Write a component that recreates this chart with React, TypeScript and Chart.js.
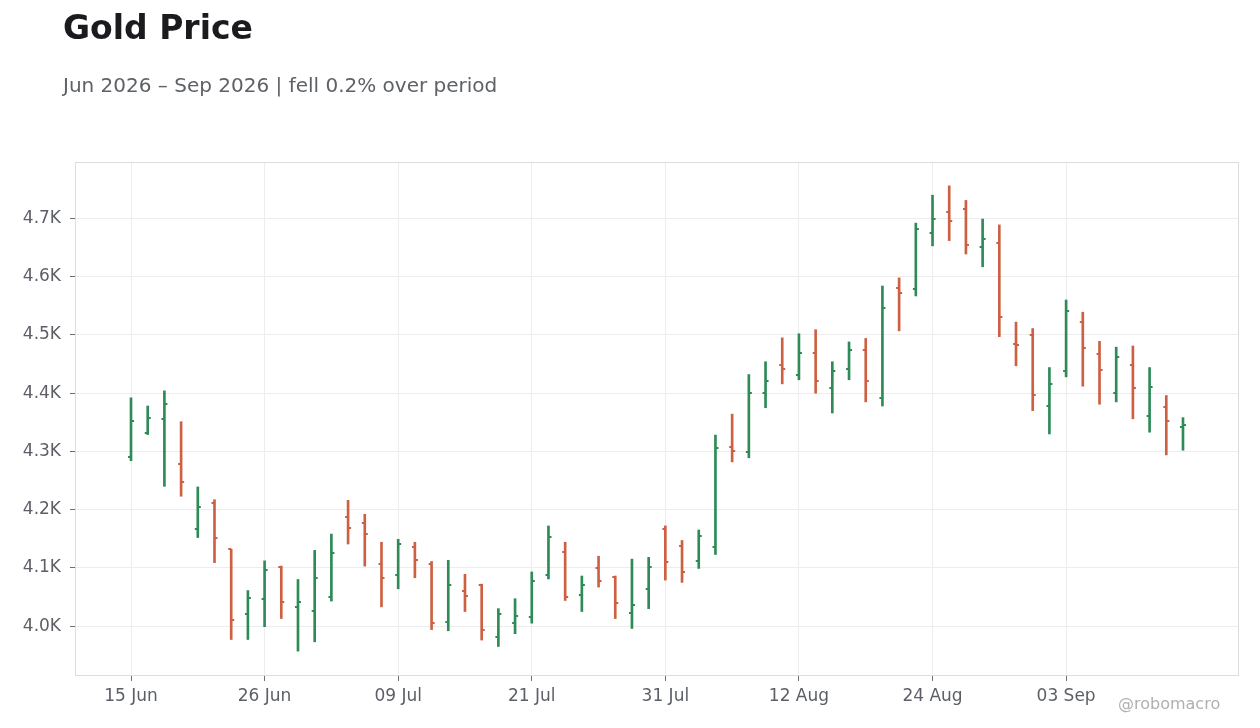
import React, { useEffect, useRef } from "react";
import { Chart, registerables } from "chart.js";

Chart.register(...registerables);

// trading days shown on the x axis (one per bar)
const dates = [
  "15 Jun", "16 Jun", "17 Jun", "18 Jun", "22 Jun", "23 Jun", "24 Jun", "25 Jun",
  "26 Jun", "29 Jun", "30 Jun", "01 Jul", "02 Jul", "06 Jul", "07 Jul", "08 Jul",
  "09 Jul", "10 Jul", "13 Jul", "14 Jul", "15 Jul", "16 Jul", "17 Jul", "20 Jul",
  "21 Jul", "22 Jul", "23 Jul", "24 Jul", "27 Jul", "28 Jul", "29 Jul", "30 Jul",
  "31 Jul", "03 Aug", "04 Aug", "05 Aug", "06 Aug", "07 Aug", "10 Aug", "11 Aug",
  "12 Aug", "13 Aug", "14 Aug", "17 Aug", "18 Aug", "19 Aug", "20 Aug", "21 Aug",
  "24 Aug", "25 Aug", "26 Aug", "27 Aug", "28 Aug", "31 Aug", "01 Sep", "02 Sep",
  "03 Sep", "04 Sep", "08 Sep", "09 Sep", "10 Sep", "11 Sep", "14 Sep", "15 Sep",
];

const opens = [
  4291, 4332, 4355, 4278, 4166, 4212, 4132, 4020, 4046, 4102, 4033, 4026, 4050, 4187, 4177, 4107,
  4088, 4136, 4107, 4007, 4061, 4070, 3982, 4006, 4015, 4087, 4128, 4054, 4099, 4085, 4022, 4063,
  4166, 4137, 4111, 4135, 4308, 4299, 4400, 4449, 4431, 4469, 4409, 4441, 4474, 4391, 4581, 4579,
  4675, 4711, 4717, 4651, 4658, 4485, 4500, 4378, 4438, 4522, 4467, 4400, 4448, 4361, 4376, 4342,
];
const highs = [
  4392, 4378, 4404, 4351, 4239, 4217, 4132, 4061, 4112, 4103, 4080, 4130, 4158, 4216, 4192, 4144,
  4149, 4144, 4111, 4113, 4089, 4072, 4030, 4047, 4093, 4172, 4144, 4086, 4120, 4086, 4115, 4118,
  4172, 4147, 4165, 4328, 4364, 4432, 4454, 4495, 4502, 4509, 4454, 4488, 4494, 4584, 4598, 4692,
  4740, 4756, 4731, 4699, 4689, 4522, 4511, 4444, 4560, 4539, 4489, 4479, 4481, 4444, 4396, 4358,
];
const lows = [
  4284, 4329, 4240, 4223, 4152, 4109, 3977, 3977, 3999, 4013, 3957, 3973, 4043, 4141, 4103, 4033,
  4064, 4083, 3994, 3992, 4025, 3976, 3965, 3987, 4005, 4081, 4044, 4025, 4067, 4013, 3996, 4030,
  4079, 4075, 4099, 4123, 4282, 4289, 4375, 4416, 4423, 4400, 4366, 4423, 4385, 4378, 4507, 4567,
  4653, 4662, 4639, 4617, 4497, 4447, 4370, 4330, 4428, 4412, 4381, 4385, 4356, 4333, 4294, 4302,
];
const closes = [
  4353, 4357, 4382, 4247, 4204, 4151, 4010, 4049, 4097, 4041, 4041, 4083, 4126, 4169, 4158, 4082,
  4141, 4114, 4006, 4070, 4052, 3994, 4020, 4017, 4078, 4153, 4050, 4071, 4078, 4040, 4037, 4101,
  4110, 4093, 4154, 4306, 4301, 4400, 4421, 4441, 4469, 4421, 4438, 4474, 4421, 4547, 4572, 4682,
  4699, 4695, 4655, 4665, 4531, 4483, 4397, 4416, 4541, 4478, 4440, 4462, 4409, 4411, 4352, 4345,
];

const xTickIndexes = [0, 8, 16, 24, 32, 40, 48, 56];
const yTicks = [4000, 4100, 4200, 4300, 4400, 4500, 4600, 4700];

const UP = "#2e8b57";
const DOWN = "#cd6042";
const FONT = "'DejaVu Sans', sans-serif";

function tickImage(color: string, side: "left" | "right") {
  const c = document.createElement("canvas");
  c.width = 10;
  c.height = 2;
  const g = c.getContext("2d")!;
  g.fillStyle = color;
  if (side === "left") g.fillRect(2, 0, 3, 2);
  else g.fillRect(5, 0, 3, 2);
  return c;
}

const framePlugin = {
  id: "frame",
  beforeDatasetsDraw(chart: any) {
    const { ctx, chartArea } = chart;
    ctx.save();
    ctx.strokeStyle = "#dddddd";
    ctx.lineWidth = 1;
    ctx.strokeRect(chartArea.left + 0.5, chartArea.top + 0.5, chartArea.right - chartArea.left - 1, chartArea.bottom - chartArea.top);
    ctx.restore();
  },
};

export default function App() {
  const canvasRef = useRef<HTMLCanvasElement | null>(null);
  const chartRef = useRef<any>(null);

  useEffect(() => {
    if (!canvasRef.current) return;
    const openUp = tickImage(UP, "left");
    const openDown = tickImage(DOWN, "left");
    const closeUp = tickImage(UP, "right");
    const closeDown = tickImage(DOWN, "right");
    const colors = closes.map((c, i) => (c >= opens[i] ? UP : DOWN));

    chartRef.current = new Chart(canvasRef.current, {
      type: "bar",
      data: {
        datasets: [
          {
            type: "bar",
            data: highs.map((h, i) => ({ x: i, y: [lows[i], h] })) as any,
            backgroundColor: colors,
            barThickness: 2,
            grouped: false,
          } as any,
          {
            type: "scatter",
            data: opens.map((o, i) => ({ x: i, y: o })),
            pointStyle: (ctx: any) => (colors[ctx.dataIndex] === UP ? openUp : openDown),
            pointRadius: 3,
          } as any,
          {
            type: "scatter",
            data: closes.map((c, i) => ({ x: i, y: c })),
            pointStyle: (ctx: any) => (colors[ctx.dataIndex] === UP ? closeUp : closeDown),
            pointRadius: 3,
          } as any,
        ],
      },
      options: {
        animation: false,
        responsive: true,
        maintainAspectRatio: false,
        events: [],
        layout: { padding: { top: 162, right: 21, left: 0, bottom: 0 } },
        plugins: { legend: { display: false }, tooltip: { enabled: false } },
        scales: {
          x: {
            type: "linear",
            offset: false,
            min: -3.354,
            max: 66.354,
            afterBuildTicks: (s: any) => {
              s.ticks = xTickIndexes.map((v) => ({ value: v }));
            },
            afterFit: (s: any) => {
              s.height = 53;
            },
            ticks: {
              callback: (v: any) => dates[v] ?? "",
              color: "#5c5f66",
              font: { family: FONT, size: 17 },
              padding: 5,
              maxRotation: 0,
              autoSkip: false,
            },
            grid: { offset: false, color: "#ededed", tickColor: "#6b6e75", tickLength: 6 },
            border: { display: false },
          },
          y: {
            min: 3916,
            max: 4797,
            afterBuildTicks: (s: any) => {
              s.ticks = yTicks.map((v) => ({ value: v }));
            },
            afterFit: (s: any) => {
              s.width = 75;
            },
            ticks: {
              callback: (v: any) => (Number(v) / 1000).toFixed(1) + "K",
              color: "#5c5f66",
              font: { family: FONT, size: 17 },
              padding: 9,
            },
            grid: { color: "#ededed", tickColor: "#6b6e75", tickLength: 5 },
            border: { display: false },
          },
        },
      },
      plugins: [framePlugin],
    } as any);

    return () => {
      if (chartRef.current) {
        chartRef.current.destroy();
        chartRef.current = null;
      }
    };
  }, []);

  return (
    <div style={{ position: "absolute", left: 0, top: 0, width: 1260, height: 728, background: "#fff", fontFamily: FONT }}>
      <div style={{ position: "absolute", left: 0, top: 0, width: 1260, height: 728 }}>
        <canvas ref={canvasRef} />
      </div>
      <div style={{ position: "absolute", left: 63, top: 11, fontSize: 33, lineHeight: "33px", fontWeight: "bold", color: "#1b1b1f", whiteSpace: "nowrap" }}>
        Gold Price
      </div>
      <div style={{ position: "absolute", left: 63, top: 75, fontSize: 20, lineHeight: "20px", color: "#5f6168", whiteSpace: "nowrap" }}>
        Jun 2026 – Sep 2026 | fell 0.2% over period
      </div>
      <div style={{ position: "absolute", left: 1118, top: 696, fontSize: 16, lineHeight: "16px", color: "#b0b0b4", whiteSpace: "nowrap" }}>
        @robomacro
      </div>
    </div>
  );
}
